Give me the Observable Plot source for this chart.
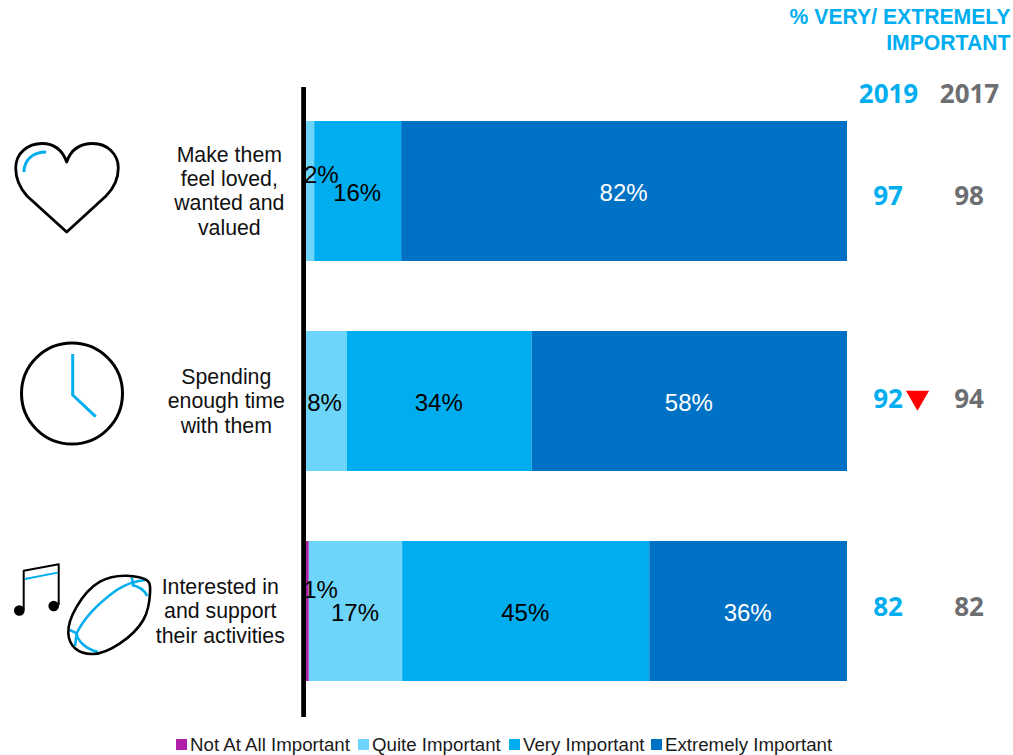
<!DOCTYPE html>
<html><head><meta charset="utf-8">
<script src="https://cdn.jsdelivr.net/npm/d3@7"></script>
<script src="https://cdn.jsdelivr.net/npm/@observablehq/plot@0.6"></script>
<style>
html,body{margin:0;padding:0;background:#fff;overflow:hidden}
#legend{position:relative;height:30px;font:18.7px "Liberation Sans",Arial,sans-serif;color:#1a1a1a}
#legend span{position:absolute;top:9px;white-space:nowrap;line-height:22px}
#legend i{position:absolute;top:14px;width:11px;height:11px}
</style></head><body>
<div id="chart"></div><div id="legend"></div>
<script>
const categories = ["Make them\nfeel loved,\nwanted and\nvalued", "Spending\nenough time\nwith them", "Interested in\nand support\ntheir activities"];
const levels = ["Not At All Important", "Quite Important", "Very Important", "Extremely Important"];
const colors = ["#AF1FA9", "#6DD5F9", "#00AEEF", "#0072C5"];
const notAtAll = [0, 0, 1];
const quite = [2, 8, 17];
const very = [16, 34, 45];
const extremely = [82, 58, 36];
const pct2019 = [97, 92, 82];
const pct2017 = [98, 94, 82];
const series = [notAtAll, quite, very, extremely];

const rows = levels.flatMap((level, l) => categories.map((category, c) => ({category, level, value: series[l][c]})));
const SANS = '"Liberation Sans",Arial,sans-serif';
const BOLD = '"Open Sans",sans-serif';
const BLUE = "#00AEEF", GREY = "#6D6E71";
const stackOpts = {x: "value", y: "category", z: "level", offset: "normalize"};
const labelOpts = {...stackOpts, text: d => d.value + "%", fontSize: 24, fontFamily: SANS, dx: -1, dy: 1.5};

function icons() {
  const g = d3.create("svg:g").attr("fill", "none").attr("stroke-linejoin", "round");
  const ink = (d, w = 2.8) => g.append("path").attr("d", d).attr("stroke", "#000").attr("stroke-width", w);
  const sky = (d, w = 3) => g.append("path").attr("d", d).attr("stroke", BLUE).attr("stroke-width", w);
  // heart
  ink("M66.7,232 L27,196 C19,187 15.7,177 15.7,168 C15.7,153 28,143.5 42,143.5 C53,143.5 62,149 66.7,162 C71,149 81,143.5 93,143.5 C107,143.5 118.3,154 118.3,168 C118.3,177 115,187 106,196 Z");
  sky("M24,172 C24,160 33,152 46,152");
  // clock
  g.append("circle").attr("cx", 72).attr("cy", 393.5).attr("r", 50.5).attr("stroke", "#000").attr("stroke-width", 3);
  sky("M72.7,354 V395 L95.7,416.7");
  // music notes
  ink("M23.7,610 V570.7 L58.7,564.3 V605", 2);
  sky("M25,579 L57.7,572.7", 1.8);
  g.append("circle").attr("cx", 19.3).attr("cy", 610.5).attr("r", 5.3).attr("fill", "#000");
  g.append("circle").attr("cx", 53.7).attr("cy", 606).attr("r", 5.3).attr("fill", "#000");
  // ball
  sky("M76.7,633.3 C84,618 100,602 116.7,590 C126,584 136,581 145,580", 2.6);
  sky("M131.7,585 C138,586 145,590 147,596", 2.6);
  sky("M131.7,577.5 L133.5,585", 2.6);
  sky("M70,630 L76.7,633.3 C77,640 85,649 98,652", 2.6);
  sky("M76.7,633.3 L75,646", 2.6);
  const outline = [[148.3,581.7],[126.7,575.7],[100,581.7],[76.7,606.7],[68.3,633.3],[75,648.3],[93.3,654],[120,643.3],[143.3,620],[150,593.3]];
  ink(d3.line().curve(d3.curveCatmullRomClosed.alpha(0.5))(outline), 2.6);
  return g.node();
}

const plot = Plot.plot({
  width: 1013, height: 725,
  marginLeft: 303.3, marginRight: 166, marginTop: 87, marginBottom: 8,
  x: {axis: null, domain: [0, 1]},
  y: {axis: null, domain: categories, range: [121, 681], paddingInner: 1/3, paddingOuter: 0},
  color: {domain: levels, range: colors},
  marks: [
    Plot.barX(rows, Plot.stackX({...stackOpts, fill: "level"})),
    Plot.ruleX([0], {stroke: "#000", strokeWidth: 4.8, dx: -0.2}),
    Plot.text(rows, Plot.filter(d => d.value > 2, Plot.stackX({...labelOpts, fill: d => d.level === levels[3] ? "#fff" : "#000"}))),
    Plot.text(rows, Plot.filter(d => d.value === 2, Plot.stackX({...labelOpts, fill: "#000", dx: 12, dy: -16.5}))),
    Plot.text(rows, Plot.filter(d => d.value === 1, Plot.stackX({...labelOpts, fill: "#000", dx: 14, dy: -21.5}))),
    ...categories.map((c, i) => Plot.text([c], {
      x: () => 0, y: d => d, text: d => d, dx: [-74.5, -77.5, -83.5][i], dy: -1, lineHeight: 1.14,
      fontSize: 21.3, fontFamily: SANS, fill: "#111"})),
    ...categories.map((c, i) => Plot.text([c], {
      x: () => 1, y: d => d, text: () => pct2019[i], dx: 40.5, dy: [5, -2, -4][i],
      fontSize: 26, fontWeight: 700, fontFamily: BOLD, fill: BLUE})),
    ...categories.map((c, i) => Plot.text([c], {
      x: () => 1, y: d => d, text: () => pct2017[i], dx: 121.5, dy: [5, -2, -4][i],
      fontSize: 26, fontWeight: 700, fontFamily: BOLD, fill: GREY})),
    Plot.dot([categories[1]], {x: () => 1, y: d => d, dx: 70, dy: -4, symbol: "triangle", rotate: 180, r: 8.6, fill: "#FF0000"}),
    Plot.text(["2019"], {frameAnchor: "top", lineAnchor: "middle", text: d => d, dx: 41, x: () => 1, dy: 7, fontSize: 26, fontWeight: 700, fontFamily: BOLD, fill: BLUE}),
    Plot.text(["2017"], {frameAnchor: "top", lineAnchor: "middle", text: d => d, dx: 122, x: () => 1, dy: 7, fontSize: 26, fontWeight: 700, fontFamily: BOLD, fill: GREY}),
    Plot.text(["% VERY/ EXTREMELY\nIMPORTANT"], {frameAnchor: "top", x: () => 1, text: d => d, dx: 163, dy: -81, textAnchor: "end", lineAnchor: "top", lineHeight: 1.19, fontSize: 21.2, fontWeight: 700, fontFamily: SANS, fill: BLUE}),
    icons
  ]
});
plot.style.display = "block";
document.getElementById("chart").append(plot);

const legend = document.getElementById("legend");
const swatchX = [176, 358, 509, 651];
levels.forEach((name, i) => {
  const sw = document.createElement("i");
  sw.style.left = swatchX[i] + "px"; sw.style.background = colors[i];
  const tx = document.createElement("span");
  tx.style.left = (swatchX[i] + 14) + "px"; tx.textContent = name;
  legend.append(sw, tx);
});
</script></body></html>
